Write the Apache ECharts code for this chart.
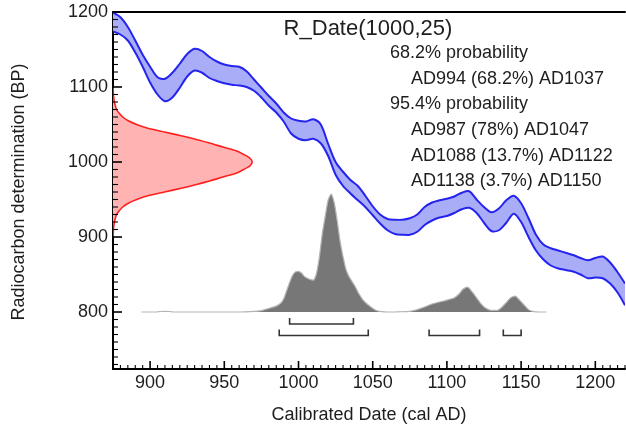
<!DOCTYPE html>
<html>
<head>
<meta charset="utf-8">
<script src="https://cdn.jsdelivr.net/npm/echarts@6/dist/echarts.min.js"></script>
<style>
  html, body { margin: 0; padding: 0; background: #fff; }
  #chart { width: 626px; height: 425px; }
</style>
</head>
<body>
<div id="chart"></div>
<script>
// Calibration curve band (cal AD vs. radiocarbon age BP): upper and lower edges
const curveDates = [875,880,885,890,895,900,905,910,915,920,925,930,935,940,945,950,955,960,965,970,
  975,980,985,990,995,1000,1005,1010,1015,1020,1025,1030,1035,1040,1045,1050,1055,1060,1065,1070,
  1075,1080,1085,1090,1095,1100,1105,1110,1115,1120,1125,1130,1135,1140,1145,1150,1155,1160,1165,1170,
  1175,1180,1185,1190,1195,1200,1205,1210,1215,1220];
const curveUpper = [1199,1193,1180,1162,1143,1127,1113,1111,1119,1131,1144,1151,1148,1140,1134,1130,1128,1127,1121,1110,
  1099,1088,1078,1066,1058,1055,1054,1057,1050,1024,1000,987,976,968,955,941,930,924,923,923,
  925,930,940,946,949,951,954,959,961,950,940,933,938,949,955,945,925,903,890,885,
  882,879,876,872,869,872,874,866,853,838];
const curveLower = [1174,1170,1162,1146,1127,1106,1090,1081,1086,1099,1114,1122,1119,1112,1108,1105,1103,1102,1100,1095,
  1086,1075,1066,1054,1038,1031,1029,1031,1025,1008,983,968,958,949,940,929,918,909,904,903,
  903,907,916,922,926,928,932,937,939,932,919,908,909,919,931,920,900,882,870,862,
  858,856,854,850,845,846,845,838,826,809];

// Radiocarbon measurement and its relative likelihood by BP
const measBP = 1000;
const measErr = 25;
const dateBP = [1100,1095,1090,1085,1080,1075,1070,1065,1060,1055,1050,1045,1040,1035,1030,1025,1020,1015,1010,1005,
  1000,995,990,985,980,975,970,965,960,955,950,945,940,935,930,925,920,915,910,905,900];
const dateProb = [0,0.002,0.003,0.006,0.01,0.017,0.025,0.045,0.07,0.11,0.17,0.25,0.37,0.49,0.6,0.7,0.79,0.885,0.94,0.985,
  1,0.985,0.94,0.885,0.79,0.7,0.6,0.49,0.37,0.25,0.17,0.11,0.07,0.045,0.025,0.017,0.01,0.006,0.003,0.002,0];

// Calibrated date distribution (relative probability, peak = 1)
const calDates = [894,904,907,910,913,916,960,970,975,980,985,988,990,992,994,996,998,1000,1002,1004,
  1007,1010,1012,1014,1016,1018,1020,1022,1024,1026,1028,1030,1032,1034,1036,1038,1040,1043,1046,1049,
  1052,1055,1060,1070,1075,1080,1085,1090,1095,1100,1105,1108,1111,1114,1117,1120,1123,1126,1130,1134,
  1137,1140,1143,1146,1149,1152,1155,1158,1162,1167];
const calProb = [0,0,0.004,0.005,0.004,0,0,0.005,0.012,0.03,0.05,0.075,0.11,0.18,0.25,0.31,0.34,0.345,0.33,0.3,
  0.28,0.27,0.32,0.46,0.66,0.81,0.95,1,0.93,0.78,0.6,0.47,0.36,0.3,0.26,0.22,0.17,0.11,0.07,0.04,
  0.015,0.005,0,0.002,0.006,0.02,0.042,0.068,0.085,0.1,0.12,0.15,0.195,0.21,0.17,0.12,0.068,0.034,0.013,0.013,
  0.04,0.08,0.12,0.135,0.1,0.06,0.02,0.005,0,0];

// Highest probability density ranges
const ranges68 = [{ from: 994, to: 1037, pct: '68.2' }];
const ranges95 = [
  { from: 987, to: 1047, pct: '78' },
  { from: 1088, to: 1122, pct: '13.7' },
  { from: 1138, to: 1150, pct: '3.7' }
];

// Axis tick labels
const xTickLabels = [900, 950, 1000, 1050, 1100, 1150, 1200];
const yTickLabels = [800, 900, 1000, 1100, 1200];

const FONT = '"Liberation Sans", Arial, Helvetica, sans-serif';
const TEXT = '#1e1e1e';
const BLUE = '#2424ee';

const X_MIN = 875, X_MAX = 1220, Y_MIN = 724, Y_MAX = 1200;

// Tick positions: every 5 years on the date axis, every 10 BP on the age axis
const xTickValues = [];
for (let v = X_MIN; v <= X_MAX; v += 5) xTickValues.push(v);
const yTickValues = [];
for (let v = 730; v <= Y_MAX; v += 10) yTickValues.push(v);

const chart = echarts.init(document.getElementById('chart'), null, { renderer: 'canvas' });

const calData = calDates.map((d, i) => [d, calProb[i]]);
const bracketData = ranges68.map(r => [r.from, r.to, 0]).concat(ranges95.map(r => [r.from, r.to, 1]));

// Calibration band: filled ring between the two edges, both edges stroked
function renderBand(params, api) {
  const up = curveDates.map((d, i) => api.coord([d, curveUpper[i]]));
  const lo = curveDates.map((d, i) => api.coord([d, curveLower[i]]));
  const ring = up.concat(lo.slice().reverse());
  return {
    type: 'group',
    children: [
      { type: 'polygon', shape: { points: ring, smooth: 0.3 }, style: { fill: '#a9acf6', stroke: null } },
      { type: 'polyline', shape: { points: up, smooth: 0.3 }, style: { stroke: BLUE, lineWidth: 2, fill: null } },
      { type: 'polyline', shape: { points: lo, smooth: 0.3 }, style: { stroke: BLUE, lineWidth: 2, fill: null } }
    ]
  };
}

function renderLikelihood(params, api) {
  const pts = dateBP.map((bp, i) => api.coord([dateProb[i], bp]));
  const b0 = api.coord([0, dateBP[0]]);
  const b1 = api.coord([0, dateBP[dateBP.length - 1]]);
  return {
    type: 'group',
    children: [
      { type: 'polygon', shape: { points: [b0].concat(pts, [b1]), smooth: 0.25 },
        style: { fill: '#ffb3b3', stroke: null } },
      { type: 'polyline', shape: { points: pts, smooth: 0.25 },
        style: { stroke: '#ff1f1f', lineWidth: 1.6, fill: null } }
    ]
  };
}

function renderBracket(params, api) {
  const a = api.coord([api.value(0), 0]);
  const b = api.coord([api.value(1), 0]);
  const level = api.value(2);
  const lineY = a[1] + (level === 0 ? 12 : 23.5);
  const topY = lineY - 6;
  return {
    type: 'polyline',
    shape: { points: [[a[0], topY], [a[0], lineY], [b[0], lineY], [b[0], topY]] },
    style: { stroke: '#333', lineWidth: 1.6, fill: null }
  };
}

const summaryLines = [
  { text: '68.2% probability', indent: false },
  ...ranges68.map(r => ({ text: `AD${r.from} (${r.pct}%) AD${r.to}`, indent: true })),
  { text: '95.4% probability', indent: false },
  ...ranges95.map(r => ({ text: `AD${r.from} (${r.pct}%) AD${r.to}`, indent: true }))
];

const textGraphics = [
  { type: 'text', x: 368, y: 29, style: { text: `R_Date(${measBP},${measErr})`, font: '22px ' + FONT, fill: TEXT, align: 'center', verticalAlign: 'middle' } },
  { type: 'text', x: 369, y: 415, style: { text: 'Calibrated Date (cal AD)', font: '18px ' + FONT, fill: TEXT, align: 'center', verticalAlign: 'middle' } },
  { type: 'text', x: 19, y: 192, rotation: Math.PI / 2, style: { text: 'Radiocarbon determination (BP)', font: '18px ' + FONT, fill: TEXT, align: 'center', verticalAlign: 'middle' } }
];
summaryLines.forEach((l, i) => {
  textGraphics.push({ type: 'text', x: l.indent ? 411 : 390, y: 53 + i * 25.7,
    style: { text: l.text, font: '18px ' + FONT, fill: TEXT, align: 'left', verticalAlign: 'middle' } });
});

const axisLine = { show: true, onZero: false, lineStyle: { color: '#000', width: 2 } };
const noLine = { show: false, onZero: false };
const plain = v => String(v);

chart.setOption({
  animation: false,
  backgroundColor: '#fff',
  grid: { left: 113, right: 1, top: 12, bottom: 56, outerBoundsMode: 'none', containLabel: false },
  xAxis: [
    { type: 'value', min: X_MIN, max: X_MAX, position: 'bottom', axisLine,
      axisTick: { show: false },
      axisLabel: { show: true, customValues: xTickLabels, formatter: plain, fontSize: 18, fontFamily: FONT, color: TEXT, margin: 5 },
      splitLine: { show: false } },
    { type: 'value', min: 0, max: 3.68, position: 'top', axisLine,
      axisTick: { show: false }, axisLabel: { show: false }, splitLine: { show: false } }
  ],
  yAxis: [
    { type: 'value', min: Y_MIN, max: Y_MAX, position: 'left', axisLine,
      axisTick: { show: false },
      axisLabel: { show: true, customValues: yTickLabels, formatter: plain, fontSize: 18, fontFamily: FONT, color: TEXT, margin: 5 },
      splitLine: { show: false } },
    { type: 'value', min: -0.483, max: 2.542, show: false, axisLine: noLine, splitLine: { show: false } }
  ],
  series: [
    { name: 'curve', type: 'custom', xAxisIndex: 0, yAxisIndex: 0, data: [[curveDates[0], curveUpper[0]]],
      renderItem: renderBand, z: 3, silent: true, clip: true },
    { name: 'likelihood', type: 'custom', xAxisIndex: 1, yAxisIndex: 0, data: [[0, measBP]],
      renderItem: renderLikelihood, z: 2, silent: true, clip: true },
    { name: 'calibrated', type: 'line', xAxisIndex: 0, yAxisIndex: 1, data: calData,
      smooth: 0.2, symbol: 'none', z: 2, lineStyle: { color: '#b5b5b5', width: 1.2 },
      areaStyle: { color: '#777777', opacity: 1 } },
    { name: 'ranges', type: 'custom', xAxisIndex: 0, yAxisIndex: 1, data: bracketData,
      renderItem: renderBracket, z: 2, silent: true, clip: false }
  ]
});

// Inward tick marks as thin filled bars, placed through the axes' own pixel mapping
const finder = { xAxisIndex: 0, yAxisIndex: 0 };
const tickGraphics = [];
xTickValues.forEach(v => {
  const major = xTickLabels.indexOf(v) >= 0;
  const p = chart.convertToPixel(finder, [v, Y_MIN]);
  const len = major ? 8 : 4;
  const w = major ? 1.6 : 1.1;
  tickGraphics.push({ type: 'rect', z: 10, silent: true,
    shape: { x: p[0] - w / 2, y: p[1] - len, width: w, height: len },
    style: { fill: '#000' } });
});
yTickValues.forEach(v => {
  const major = yTickLabels.indexOf(v) >= 0;
  const p = chart.convertToPixel(finder, [X_MIN, v]);
  const len = major ? 9 : 5;
  const w = major ? 1.6 : 1.1;
  tickGraphics.push({ type: 'rect', z: 10, silent: true,
    shape: { x: p[0], y: p[1] - w / 2, width: len, height: w },
    style: { fill: '#000' } });
});

chart.setOption({ graphic: textGraphics.concat(tickGraphics) });
</script>
</body>
</html>
